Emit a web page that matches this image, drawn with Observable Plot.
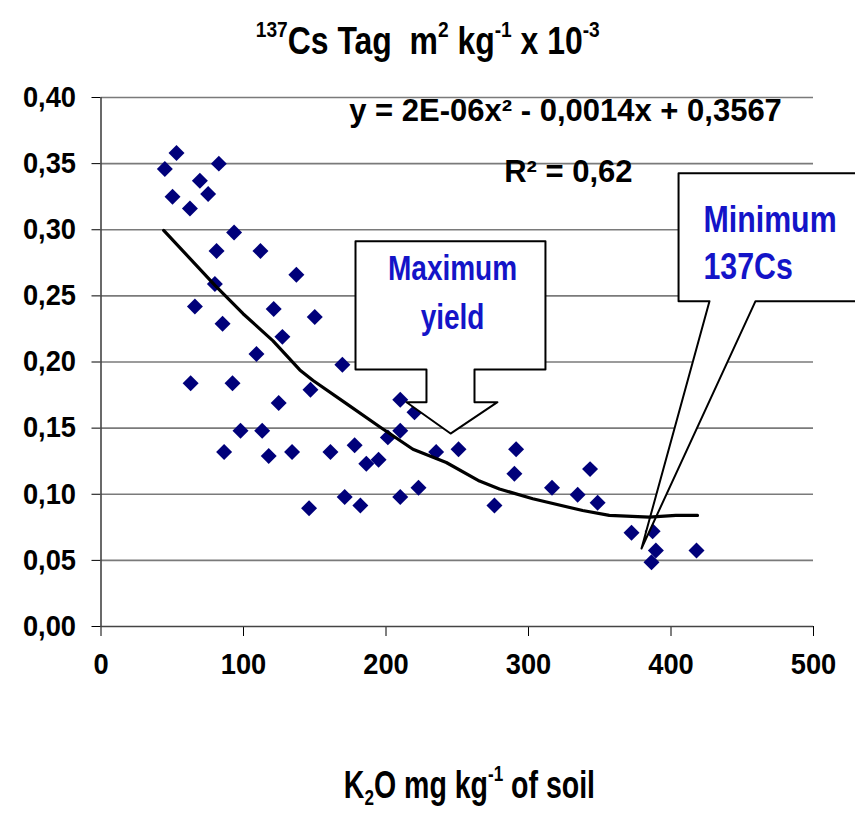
<!DOCTYPE html>
<html><head><meta charset="utf-8">
<script src="https://cdn.jsdelivr.net/npm/d3@7"></script>
<script src="https://cdn.jsdelivr.net/npm/@observablehq/plot@0.6"></script>
<style>
html,body{margin:0;padding:0;background:#fff;}
body{width:855px;height:824px;overflow:hidden;font-family:'Liberation Sans',Arial,sans-serif;font-weight:bold;color:#000;}
#wrap{position:relative;width:855px;height:824px;}
.hl{position:absolute;left:0;width:855px;text-align:center;}
.hl span.in{display:inline-block;transform-origin:50% 50%;white-space:nowrap;}
#title{top:20px;font-size:38px;}
#title span.in{transform:scaleX(0.84);}
#xlab{top:764px;left:42px;font-size:38px;}
#xlab span.in{transform:scaleX(0.75);}
sup{font-size:0.6em;vertical-align:0;position:relative;top:-0.75em;}
sub{font-size:0.6em;vertical-align:0;position:relative;top:0.3em;}
#chart{position:absolute;top:70px;left:0;}
</style></head>
<body><div id="wrap">
<div id="title" class="hl"><span class="in"><sup>137</sup>Cs Tag&nbsp; m<sup>2</sup> kg<sup>-1</sup> x 10<sup>-3</sup></span></div>
<div id="chart"></div>
<div id="xlab" class="hl"><span class="in">K<sub>2</sub>O mg kg<sup>-1</sup> of soil</span></div>
</div>
<script>
// K2O (mg/kg) and 137Cs transfer factor values
const k2o = [44.8,53.0,50.2,62.4,69.4,75.2,82.7,93.4,81.1,111.9,79.9,137.1,65.9,121.2,85.3,127.3,109.1,62.9,92.3,124.7,97.9,113.1,86.4,117.7,134.1,150.0,169.4,147.0,210.0,220.0,210.0,201.3,161.0,178.0,186.2,194.8,235.2,250.9,146.0,171.0,182.0,210.0,222.8,291.3,290.1,276.1,316.5,334.5,343.2,348.5,372.3,387.1,389.4,386.3,417.9];
const cs = [0.346,0.358,0.325,0.316,0.337,0.327,0.350,0.298,0.284,0.284,0.259,0.266,0.242,0.240,0.229,0.219,0.206,0.184,0.184,0.169,0.148,0.148,0.132,0.129,0.132,0.234,0.198,0.179,0.1715,0.162,0.148,0.143,0.132,0.137,0.123,0.126,0.132,0.134,0.0895,0.098,0.0915,0.098,0.105,0.134,0.1155,0.0915,0.105,0.0996,0.119,0.0936,0.0709,0.072,0.0575,0.0486,0.0575];
// polynomial trend line as drawn
const trendX = [44,80,99.7,120.7,139.5,148.8,172.2,195.5,218.9,242.3,265.6,279.6,303,338,356.7,384.7,403.4,418.6];
const trendY = [0.2995,0.258,0.2365,0.216,0.194,0.186,0.1685,0.151,0.134,0.124,0.110,0.104,0.0966,0.0877,0.084,0.0827,0.084,0.084];
const xTicks = [0,100,200,300,400,500];
const yTicks = [0,0.05,0.10,0.15,0.20,0.25,0.30,0.35,0.40];
const equation = "y = 2E-06x² - 0,0014x + 0,3567";
const rsq = "R² = 0,62";
const calloutMaxX = [178.6,311.9,311.9,262.1,262.1,278.2,245.3,214.4,228.4,228.4,178.6,178.6];
const calloutMaxY = [0.2913,0.2913,0.1943,0.1943,0.1696,0.1696,0.1459,0.1696,0.1696,0.1943,0.1943,0.2913];
const calloutMinX = [405.3,546.9,546.9,459.3,379.3,427.0,405.3,405.3];
const calloutMinY = [0.3428,0.3428,0.2460,0.2460,0.0590,0.2460,0.2460,0.3428];
const labelsMax = ["Maximum","yield"];
const labelsMin = ["Minimum","137Cs"];

const pts = k2o.map((x,i)=>({x, y: cs[i]}));
const trend = trendX.map((x,i)=>({x, y: trendY[i]}));
const callouts = [
  ...calloutMaxX.map((x,i)=>({id:"max", x, y: calloutMaxY[i]})),
  ...calloutMinX.map((x,i)=>({id:"min", x, y: calloutMinY[i]}))
];
const fam = "'Liberation Sans',Arial,sans-serif";

const chart = Plot.plot({
  width: 855, height: 630,
  marginLeft: 100.5, marginRight: 42, marginTop: 27, marginBottom: 74,
  style: {fontFamily: fam, fontSize: "29px", fontWeight: "bold", color: "#000", background: "transparent", overflow: "visible"},
  x: {domain: [0,500], ticks: xTicks, tickFormat: d => String(d), tickSize: 10, tickPadding: 17, label: null},
  y: {domain: [0,0.4], ticks: yTicks, tickFormat: d => d.toFixed(2).replace(".", ","), tickSize: 9, tickPadding: 16, label: null},
  marks: [
    Plot.ruleY(yTicks.filter(d => d > 0), {stroke: "#7a7a7a", strokeWidth: 1.6}),
    Plot.ruleY([0], {stroke: "#444", strokeWidth: 1.6}),
    Plot.ruleX([0], {stroke: "#444", strokeWidth: 1.6}),
    Plot.dot(pts, {x: "x", y: "y", symbol: "diamond2", r: 7.2, fill: "#00007a", stroke: "none"}),
    Plot.line(callouts, {x: "x", y: "y", z: "id", fill: "white", stroke: "#000", strokeWidth: 2, curve: "linear"}),
    Plot.line(trend, {x: "x", y: "y", stroke: "#000", strokeWidth: 3.2, curve: "linear"}),
    Plot.text([equation], {x: () => 326, y: () => 0.3898, text: d => d, fontSize: 31, fontWeight: "bold", fill: "#000", textAnchor: "middle"}),
    Plot.text([rsq], {x: () => 328, y: () => 0.3437, text: d => d, fontSize: 31, fontWeight: "bold", fill: "#000", textAnchor: "middle"}),
    Plot.text(labelsMax, {x: () => 246.7, y: (d,i) => [0.2703,0.2336][i], text: d => d, fontSize: 35, fontWeight: "bold", fill: "#1414c8", textAnchor: "middle"}),
    Plot.text(labelsMin, {x: () => 422.8, y: (d,i) => [0.3074,0.2718][i], text: d => d, fontSize: 37, fontWeight: "bold", fill: "#1414c8", textAnchor: "start"})
  ]
});
document.getElementById("chart").appendChild(chart);

// emulate the narrow face of the original: squeeze texts horizontally around their anchor
function squeezeFor(s) {
  if (s === equation || s === rsq) return 1;
  if (labelsMax.includes(s)) return 0.8;
  if (labelsMin.includes(s)) return 0.82;
  return 0.94;
}
chart.querySelectorAll("text").forEach(t => {
  const SX = squeezeFor(t.textContent.trim());
  if (SX === 1) return;
  const r = t.getBoundingClientRect();
  const anchor = getComputedStyle(t).textAnchor;
  const sx = anchor === "middle" ? (r.left + r.right) / 2 : anchor === "end" ? r.right : r.left;
  const ctm = t.parentNode.getScreenCTM();
  const ax = (sx - ctm.e) / ctm.a;
  const g = document.createElementNS("http://www.w3.org/2000/svg", "g");
  g.setAttribute("transform", `translate(${ax},0) scale(${SX},1) translate(${-ax},0)`);
  t.parentNode.insertBefore(g, t);
  g.appendChild(t);
});
</script>
</body></html>
